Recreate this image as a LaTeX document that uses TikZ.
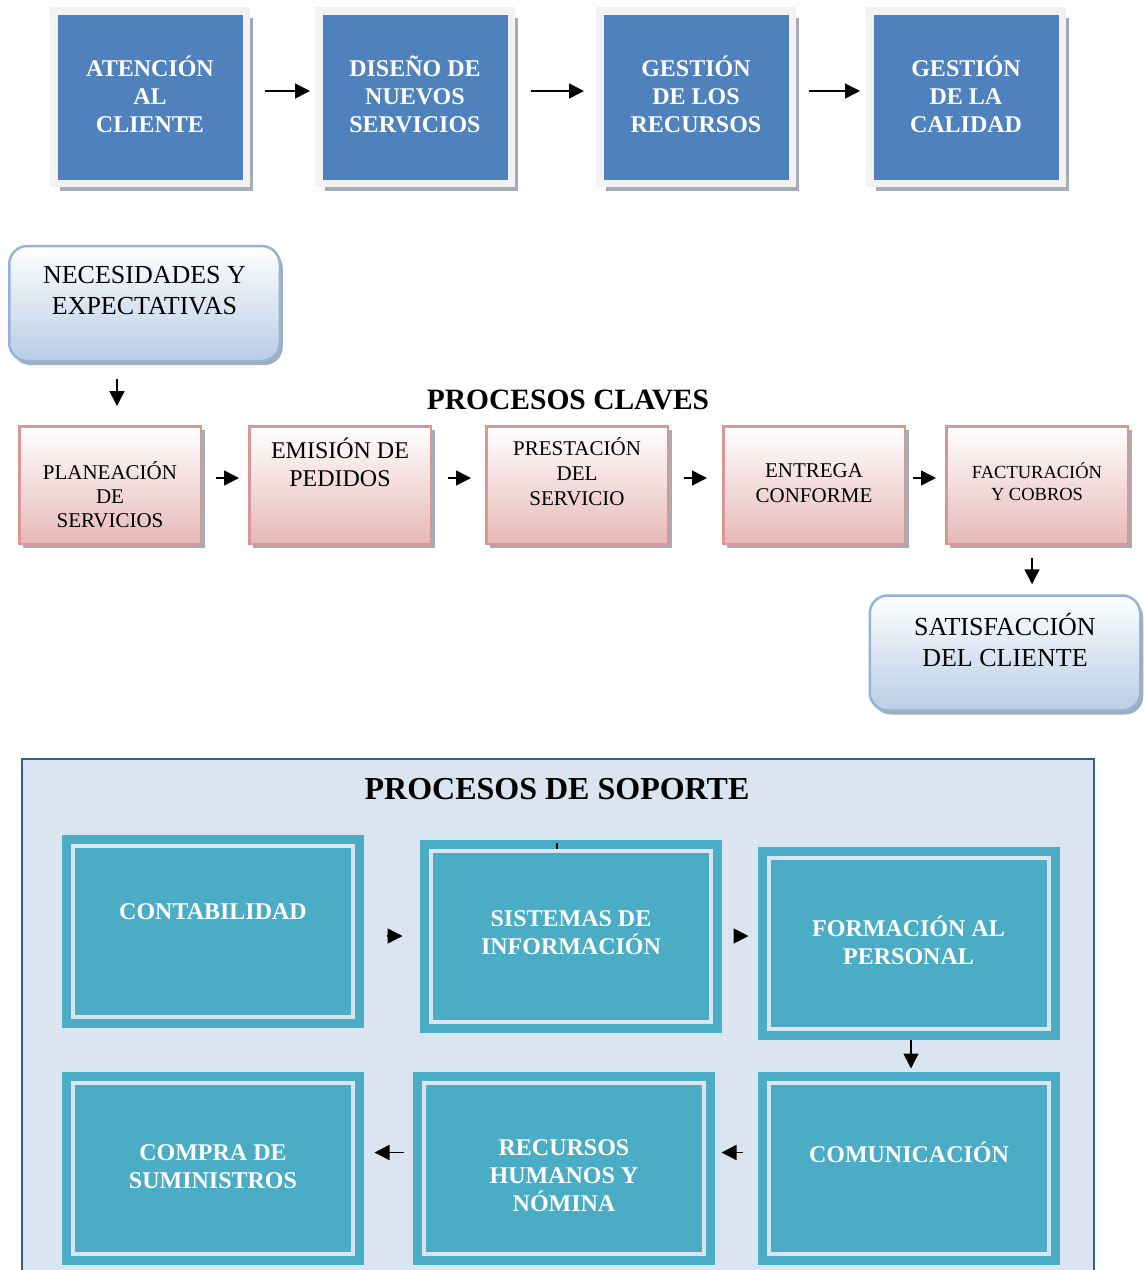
\documentclass[tikz,border=0pt]{standalone}
\usepackage{fontspec}
\setmainfont{Liberation Serif}
\usepackage{tikz}
\usetikzlibrary{arrows.meta, shadows, calc}

\definecolor{frameblue}{HTML}{4F81BD}
\definecolor{framegrey}{HTML}{F2F2F2}
\definecolor{shadowgrey}{HTML}{A3ACB9}
\definecolor{roundline}{HTML}{95B3D7}
\definecolor{roundfill}{HTML}{B9CDE5}
\definecolor{pinkline}{HTML}{D99694}
\definecolor{pinkfill}{HTML}{E6B9B8}
\definecolor{supportbg}{HTML}{DBE5F1}
\definecolor{supportline}{HTML}{385D8A}
\definecolor{tealfill}{HTML}{4BACC6}

\begin{document}
\begin{tikzpicture}[x=1pt, y=-1pt,
  flow/.style={-{Triangle[length=15pt,width=15pt]}, line width=1.5pt},
  topbox/.style={fill=frameblue, draw=framegrey, line width=7.5pt, minimum width=192.5pt,
    minimum height=172.5pt, inner sep=0pt, align=center, text=white,
    font=\fontsize{24}{28}\selectfont\bfseries,
    drop shadow={shadow xshift=6.5pt, shadow yshift=-7.5pt, fill=shadowgrey, opacity=1}},
  toptext/.style={align=center, text=white, font=\fontsize{24}{28}\selectfont\bfseries},
  roundbox/.style={rounded corners=18pt, draw=roundline, line width=2.5pt, top color=white,
    bottom color=roundfill, minimum width=270.5pt, minimum height=115pt, inner sep=0pt,
    drop shadow={shadow xshift=3pt, shadow yshift=-4pt, fill=shadowgrey, opacity=1}},
  roundtext/.style={align=center, font=\fontsize{26}{31}\selectfont},
  pinkbox/.style={draw=pinkline, line width=2.5pt, top color=white, bottom color=pinkfill,
    minimum width=181.5pt, minimum height=117.5pt, inner sep=0pt,
    drop shadow={shadow xshift=4pt, shadow yshift=-4pt, fill=shadowgrey, opacity=1}},
  pinktext/.style={align=center, font=\fontsize{21}{24}\selectfont},
  tealbox/.style={fill=tealfill, draw=tealfill, double=supportbg, double distance=4pt,
    line width=9pt, minimum width=280pt, minimum height=171pt, inner sep=0pt},
  tealtext/.style={align=center, text=white, font=\fontsize{24}{28}\selectfont\bfseries}]
\useasboundingbox (0,0) rectangle (1144,1270);

% areas
\node[topbox, label={[toptext, yshift=3pt]center:{ATENCIÓN\\AL\\CLIENTE}}] (aten) at (150,97) {};
\node[topbox, label={[toptext, yshift=3pt]center:{DISEÑO DE\\NUEVOS\\SERVICIOS}}] (dise) at (415,97) {};
\node[topbox, label={[toptext, yshift=3pt]center:{GESTIÓN\\DE LOS\\RECURSOS}}] (recu) at (696,97) {};
\node[topbox, label={[toptext, yshift=3pt]center:{GESTIÓN\\DE LA\\CALIDAD}}] (cali) at (966,97) {};
\draw[flow, shorten <=15pt, shorten >=5pt] ([yshift=6pt]aten.east) -- ([yshift=6pt]dise.west);
\draw[flow, shorten <=16pt, shorten >=12pt] ([yshift=6pt]dise.east) -- ([yshift=6pt]recu.west);
\draw[flow, shorten <=13pt, shorten >=6pt] ([yshift=6pt]recu.east) -- ([yshift=6pt]cali.west);

% procesos claves
\node[roundbox, label={[roundtext, yshift=13pt]center:{NECESIDADES Y\\EXPECTATIVAS}}] (nec) at (144.5,303.5) {};
\node[font=\fontsize{29.5}{34}\selectfont\bfseries] (tcla) at (568,400) {PROCESOS CLAVES};

\node[pinkbox, label={[pinktext, yshift=-10pt]center:{PLANEACIÓN\\DE\\SERVICIOS}}] (pla) at (110,485) {};
\node[pinkbox, label={[pinktext, font=\fontsize{24}{28}\selectfont, yshift=23pt]center:{EMISIÓN DE\\PEDIDOS}}] (emi) at (340,485) {};
\node[pinkbox, label={[pinktext, font=\fontsize{21}{25}\selectfont, yshift=13pt]center:{PRESTACIÓN\\DEL\\SERVICIO}}] (pre) at (577,485) {};
\node[pinkbox, label={[pinktext, font=\fontsize{21}{25}\selectfont, yshift=2pt]center:{ENTREGA\\CONFORME}}] (ent) at (814,485) {};
\node[pinkbox, label={[pinktext, font=\fontsize{18.5}{22}\selectfont, yshift=3pt]center:{FACTURACIÓN\\Y COBROS}}] (fac) at (1037,485) {};
\draw[flow, shorten <=14pt, shorten >=9pt] ([yshift=7pt]pla.east) -- ([yshift=7pt]emi.west);
\draw[flow, shorten <=16pt, shorten >=14pt] ([yshift=7pt]emi.east) -- ([yshift=7pt]pre.west);
\draw[flow, shorten <=15pt, shorten >=15pt] ([yshift=7pt]pre.east) -- ([yshift=7pt]ent.west);
\draw[flow, shorten <=7pt, shorten >=9pt] ([yshift=7pt]ent.east) -- ([yshift=7pt]fac.west);

\node[roundbox, label={[roundtext, yshift=13pt]center:{SATISFACCIÓN\\DEL CLIENTE}}] (sat) at (1005,653) {};
\draw[flow, shorten <=17pt, shorten >=19pt] ($(pla.north |- nec.south)+(7,0)$) -- ($(pla.north)+(7,0)$);
\draw[flow, shorten <=13pt, shorten >=10pt] ($(fac.south)+(-5,0)$) -- ($(fac.south |- sat.north)+(-5,0)$);

% procesos de soporte
\draw[draw=supportline, line width=1.5pt, fill=supportbg] (22,759) rectangle (1094,1285);
\node[font=\fontsize{32}{36}\selectfont\bfseries] (tsop) at (557,789) {PROCESOS DE SOPORTE};

\node[tealbox, label={[tealtext, yshift=20pt]center:CONTABILIDAD}] (con) at (213,931.5) {};
\node[tealbox, label={[tealtext, yshift=3pt]center:{SISTEMAS DE\\INFORMACIÓN}}] (sis) at (571,936) {};
\node[tealbox, label={[tealtext, yshift=3pt]center:{FORMACIÓN AL\\PERSONAL}}] (for) at (908.5,943) {};
\node[tealbox, label={[tealtext, yshift=2pt]center:{COMPRA DE\\SUMINISTROS}}] (cmp) at (213,1168.5) {};
\node[tealbox, label={[tealtext, yshift=-7pt]center:{RECURSOS\\HUMANOS Y\\NÓMINA}}] (rec) at (564,1168.5) {};
\node[tealbox, label={[tealtext, yshift=16pt]center:COMUNICACIÓN}] (com) at (909,1168.5) {};
\draw[line width=1.5pt] ($(sis.north)+(-14,-3)$) -- ++(0,6);

\draw[flow, shorten <=29pt, shorten >=24pt] (con.east |- sis.west) -- (sis.west);
\draw[flow, shorten <=18pt, shorten >=15.5pt] (sis.east) -- (sis.east -| for.west);
\draw[flow, shorten <=6.5pt, shorten >=10pt] ($(for.south)+(2.5,0)$) -- ($(for.south |- com.north)+(2.5,0)$);
\draw[flow, shorten <=22pt, shorten >=13pt] ([yshift=16pt]com.west) -- ([yshift=16pt]rec.east);
\draw[flow, shorten <=16pt, shorten >=17pt] ([yshift=16pt]rec.west) -- ([yshift=16pt]cmp.east);
\end{tikzpicture}
\end{document}
